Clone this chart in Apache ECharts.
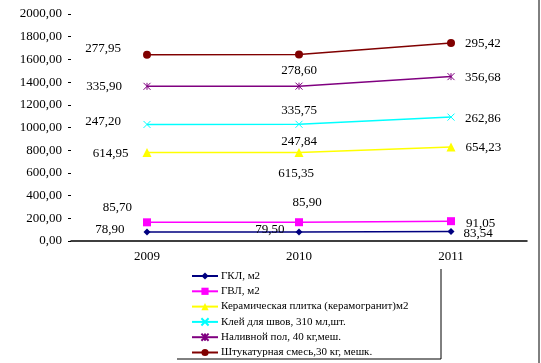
<!DOCTYPE html>
<html><head><meta charset="utf-8">
<script src="https://cdn.jsdelivr.net/npm/echarts@6/dist/echarts.min.js"></script>
<style>html,body{margin:0;padding:0;background:#fff}#c{width:541px;height:363px}</style>
</head><body><div id="c"></div>
<script>
const years = ['2009','2010','2011'];
const seriesNames = ['ГКЛ, м2','ГВЛ, м2','Керамическая плитка (керамогранит)м2','Клей для швов, 310 мл,шт.','Наливной пол, 40 кг,меш.','Штукатурная смесь,30 кг, мешк.'];
const gk = [78.90, 79.50, 83.54];
const gv = [85.70, 85.90, 91.05];
const ceramic = [614.95, 615.35, 654.23];
const klei = [247.20, 247.84, 262.86];
const pol = [335.90, 335.75, 356.68];
const shtuk = [277.95, 278.60, 295.42];
const yTicks = [0, 200, 400, 600, 800, 1000, 1200, 1400, 1600, 1800, 2000];

const FONT = '"Liberation Serif","DejaVu Serif",serif';
const fmt = v => Number(v).toFixed(2).replace('.', ',');

// label placement per point (style, not data)
const labelCfg = [
  [{position:'left',distance:19,offset:[0,-2]},{position:'left',distance:11,offset:[0,-2]},{position:'right',distance:9,offset:[0,2]}],
  [{position:'left',distance:11,offset:[0,-15]},{position:'top',distance:9,offset:[8,0]},{position:'right',distance:11,offset:[0,2]}],
  [{position:'left',distance:14,offset:[0,1]},{position:'bottom',distance:10,offset:[-3,0]},{position:'right',distance:10,offset:[0,1]}],
  [{position:'left',distance:22,offset:[0,-3]},{position:'bottom',distance:7,offset:[0,0]},{position:'right',distance:10,offset:[0,1]}],
  [{position:'left',distance:21,offset:[0,0]},{position:'bottom',distance:14,offset:[0,0]},{position:'right',distance:10,offset:[0,1]}],
  [{position:'left',distance:22,offset:[0,-6]},{position:'bottom',distance:6,offset:[0,0]},{position:'right',distance:10,offset:[0,0]}]
];
const colors = ['#000080','#FF00FF','#FFFF00','#00FFFF','#800080','#800000'];
const symbols = ['diamond','rect','triangle','path://M0,0L10,10M10,0L0,10','path://M0,0L10,10M10,0L0,10M5,0L5,10','circle'];
const sizes = [7,8,9,7,7,8];
const values = [gk, gv, ceramic, klei, pol, shtuk];

const series = values.map((vals, si) => ({
  name: seriesNames[si],
  type: 'line',
  stack: 'total',
  symbol: symbols[si],
  symbolSize: sizes[si],
  lineStyle: {color: colors[si], width: 1.5},
  itemStyle: {color: colors[si], borderColor: colors[si], borderWidth: si===3||si===4 ? 1 : 0},
  data: vals.map((v, i) => ({
    value: v,
    label: Object.assign({show: true, color: '#000', fontFamily: FONT, fontSize: 13, formatter: p => fmt(p.value)}, labelCfg[si][i])
  })),
  animation: false
}));

const chart = echarts.init(document.getElementById('c'));
chart.setOption({
  animation: false,
  backgroundColor: '#fff',
  grid: {left: 71, right: 14, top: 14, bottom: 122},
  xAxis: {
    type: 'category', data: years, boundaryGap: true,
    axisLine: {lineStyle: {color: '#000', width: 1.5}},
    axisTick: {show: false},
    axisLabel: {color: '#000', fontFamily: FONT, fontSize: 13, margin: 9}
  },
  yAxis: {
    type: 'value', min: yTicks[0], max: yTicks[yTicks.length-1], interval: 200,
    axisLine: {show: false},
    axisTick: {show: true, length: 3, lineStyle: {color: '#000'}},
    splitLine: {show: false},
    axisLabel: {color: '#000', fontFamily: FONT, fontSize: 13, margin: 9, formatter: v => fmt(v)}
  },
  legend: {
    orient: 'vertical', left: 191, top: 270, height: 100, padding: 0,
    itemWidth: 26, itemHeight: 9, itemGap: 3.3,
    textStyle: {color: '#000', fontFamily: FONT, fontSize: 11, lineHeight: 12, padding: [0,0,0,-2]},
    data: seriesNames
  },
  graphic: [
    {type: 'line', shape: {x1: 539, y1: 0, x2: 539, y2: 363}, style: {stroke: '#000', lineWidth: 1}},
    {type: 'line', shape: {x1: 177, y1: 359, x2: 441, y2: 359}, style: {stroke: '#000', lineWidth: 1}},
    {type: 'line', shape: {x1: 441, y1: 269, x2: 441, y2: 359}, style: {stroke: '#000', lineWidth: 1}}
  ],
  series: series
});
</script></body></html>
